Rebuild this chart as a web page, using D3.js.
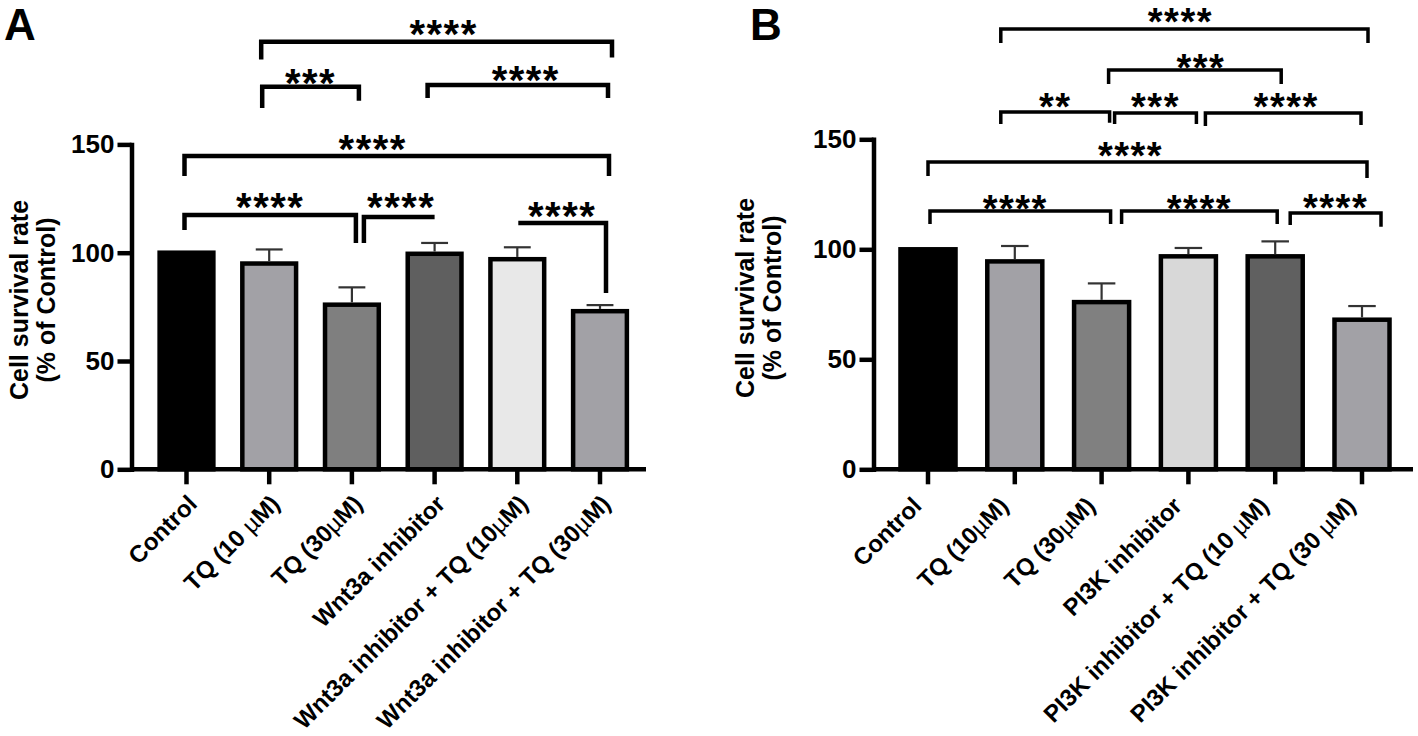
<!DOCTYPE html>
<html><head><meta charset="utf-8">
<script src="https://cdn.jsdelivr.net/npm/d3@7"></script>
<style>body{margin:0;background:#fff} svg{display:block}</style>
</head><body>
<svg id="chart" width="1418" height="736"></svg>
<script>
// ---------- DATA ----------
const categoriesA = ["Control","TQ (10 µM)","TQ (30µM)","Wnt3a inhibitor","Wnt3a inhibitor + TQ (10µM)","Wnt3a inhibitor + TQ (30µM)"];
const meansA  = [100, 95, 76, 99.5, 97, 73];
const errorsA = [0, 6.5, 8, 5, 5.5, 2.8];

const categoriesB = ["Control","TQ (10µM)","TQ (30µM)","PI3K inhibitor","PI3K inhibitor + TQ (10 µM)","PI3K inhibitor + TQ (30 µM)"];
const meansB  = [100, 94.5, 76, 96.8, 96.8, 68];
const errorsB = [0, 7, 8.5, 3.8, 6.8, 6.2];

const yTickValues = [0, 50, 100, 150];
const yTitle = ["Cell survival rate", "(% of Control)"];

// significance brackets: category indices, level & leg ends in data units
const bracketsA = [
  {from:1, to:5, level:197.4, legs:[189.2, 190.1], label:"****"},
  {from:1, to:2, level:176.6, legs:[166.8, 170.1], label:"***"},
  {from:3, to:5, level:177.4, legs:[171.4, 171.4], label:"****"},
  {from:0, to:5, level:144.6, legs:[135.4, 135.4], label:"****"},
  {from:0, to:2, level:117.4, legs:[110.5, 104.5], label:"****"},
  {from:2, to:3, level:116.5, legs:[104.5, null],  label:"****"},
  {from:4, to:5, level:113.7, legs:[null, 81.4],   label:"****"}
];
const bracketsB = [
  {from:1, to:5, level:200.1, legs:[193.8, 193.8], label:"****"},
  {from:2, to:4, level:181.5, legs:[175.1, 175.1], label:"***"},
  {from:1, to:2, level:162.4, legs:[157.0, 157.5], label:"**"},
  {from:2, to:3, level:161.9, legs:[157.0, 157.0], label:"***"},
  {from:3, to:5, level:161.9, legs:[156.0, 156.5], label:"****"},
  {from:0, to:5, level:139.7, legs:[133.3, 132.4], label:"****"},
  {from:0, to:2, level:117.4, legs:[111.5, 111.5], label:"****"},
  {from:2, to:4, level:117.4, legs:[111.5, 111.5], label:"****"},
  {from:4, to:5, level:116.5, legs:[111.0, 110.3], label:"****"}
];

// ---------- STYLE / LAYOUT ----------
const fillsA = ["#000000","#a2a1a6","#7f7f7f","#5f5f5f","#e8e8e8","#a2a1a6"];
const fillsB = ["#000000","#a2a1a6","#808080","#d8d8d8","#606060","#a2a1a6"];
// [dx left end, dx right end, dx text, text centre above line] in px
const nudgesA = [[-8,12,7,17],[-7,7,0,13],[-7,8,8,14],[-2,9,-24,16],[-2,4,0,17],[12,0,2,19],[1,6,0,16]];
const nudgesB = [[-14,6,-4,16],[7,6,6,11],[-14,8,0,14],[13,8,0,15],[17,-1,3,15],[0,5,-17,15],[2,9,-5,11],[20,2,0,11],[15,19,0,14]];

const svg = d3.select("#chart");
const FONT = "'Liberation Sans', Arial, sans-serif";
const NARROW = "'Liberation Sans Narrow', 'Arial Narrow', 'Liberation Sans', Arial, sans-serif";

function drawPanel(cfg) {
  const g = svg.append("g");
  const x = d3.scaleBand().domain(cfg.categories).range(cfg.xRange)
              .paddingInner(cfg.pad).paddingOuter(cfg.pad / 2);
  const y = d3.scaleLinear().domain([0, 150]).range(cfg.yRange);
  const cx = i => x(cfg.categories[i]) + x.bandwidth() / 2;

  // bars
  g.selectAll("rect.bar").data(cfg.categories).join("rect")
    .attr("class", "bar")
    .attr("x", d => x(d)).attr("width", x.bandwidth())
    .attr("y", (d, i) => y(cfg.means[i]))
    .attr("height", (d, i) => y(0) - y(cfg.means[i]))
    .attr("fill", (d, i) => cfg.fills[i])
    .attr("stroke", "#000").attr("stroke-width", cfg.barStroke);

  // error bars (upper only)
  const idx = d => cfg.categories.indexOf(d);
  const eb = g.selectAll("g.err").data(cfg.categories.filter((d, i) => cfg.errors[i] > 0)).join("g").attr("class", "err");
  eb.append("line")
    .attr("x1", d => x(d) + x.bandwidth() / 2).attr("x2", d => x(d) + x.bandwidth() / 2)
    .attr("y1", d => y(cfg.means[idx(d)]) - cfg.barStroke / 2)
    .attr("y2", d => y(cfg.means[idx(d)] + cfg.errors[idx(d)]))
    .attr("stroke", "#333").attr("stroke-width", 2.2);
  eb.append("line")
    .attr("x1", d => x(d) + x.bandwidth() * 0.25).attr("x2", d => x(d) + x.bandwidth() * 0.75)
    .attr("y1", d => y(cfg.means[idx(d)] + cfg.errors[idx(d)]))
    .attr("y2", d => y(cfg.means[idx(d)] + cfg.errors[idx(d)]))
    .attr("stroke", "#333").attr("stroke-width", 2.2);

  // x axis line
  g.append("line").attr("x1", cfg.axisX).attr("x2", cfg.xEnd)
    .attr("y1", y(0)).attr("y2", y(0)).attr("stroke", "#000").attr("stroke-width", 4.5);
  // x axis ticks
  const xa = g.append("g").attr("transform", `translate(0,${y(0)})`)
    .call(d3.axisBottom(x).tickSize(15).tickSizeOuter(0).tickFormat(""));
  xa.select(".domain").remove();
  xa.selectAll(".tick line").attr("stroke", "#000").attr("stroke-width", 4.5);

  // x labels
  cfg.categories.forEach((c, i) => {
    const t = g.append("text")
      .attr("transform", `translate(${cx(i) + cfg.labelDx},${y(0) + cfg.labelDy}) rotate(-45)`)
      .attr("text-anchor", "end")
      .attr("font-family", FONT).attr("font-weight", "bold")
      .attr("font-size", cfg.labelSize).attr("fill", "#000");
    c.split(/(µ)/).forEach(part => {
      if (!part) return;
      t.append("tspan").text(part).attr("font-weight", part === "µ" ? "normal" : "bold");
    });
  });

  // y axis
  const ya = g.append("g").attr("transform", `translate(${cfg.axisX},0)`)
    .call(d3.axisLeft(y).tickValues(yTickValues).tickSize(14).tickSizeOuter(0).tickPadding(3));
  ya.select(".domain").attr("stroke", "#000").attr("stroke-width", 4.5).attr("stroke-linecap", "square");
  ya.selectAll(".tick line").attr("stroke", "#000").attr("stroke-width", 4.5);
  ya.selectAll(".tick text").attr("font-family", NARROW).attr("font-weight", "bold")
    .attr("font-size", cfg.tickSize).attr("fill", "#000");

  // y title
  yTitle.forEach((line, k) => {
    g.append("text")
      .attr("transform", `translate(${cfg.titleX[k]},${cfg.titleY}) rotate(-90)`)
      .attr("text-anchor", "middle")
      .attr("font-family", FONT).attr("font-weight", "bold")
      .attr("font-size", cfg.titleSize).attr("fill", "#000").text(line);
  });

  // panel letter
  g.append("text").attr("x", cfg.letterX).attr("y", 40)
    .attr("font-family", FONT).attr("font-weight", "bold").attr("font-size", 44)
    .attr("fill", "#000").text(cfg.letter);

  // brackets
  cfg.brackets.forEach((b, k) => {
    const n = cfg.nudges[k];
    const xl = cx(b.from) + n[0], xr = cx(b.to) + n[1];
    const yl = y(b.level);
    let d = "";
    if (b.legs[0] !== null) d += `M${xl},${y(b.legs[0])}V${yl}`; else d += `M${xl},${yl}`;
    d += `H${xr}`;
    if (b.legs[1] !== null) d += `V${y(b.legs[1])}`;
    g.append("path").attr("d", d).attr("fill", "none").attr("stroke", "#000")
      .attr("stroke-width", cfg.bracketStroke).attr("stroke-linejoin", "miter");
    g.append("text")
      .attr("x", (xl + xr) / 2 + n[2])
      .attr("y", yl - n[3] + cfg.starSize * 0.58)
      .attr("text-anchor", "middle")
      .attr("font-family", FONT).attr("font-weight", "bold")
      .attr("font-size", cfg.starSize).attr("letter-spacing", 1.5)
      .attr("fill", "#000").text(b.label);
  });
}

drawPanel({
  letter: "A", letterX: 4,
  categories: categoriesA, means: meansA, errors: errorsA, fills: fillsA,
  brackets: bracketsA, nudges: nudgesA,
  xRange: [145.15, 641.35], pad: 0.35, yRange: [469.3, 144.4],
  axisX: 131.5, xEnd: 646,
  barStroke: 4.5, bracketStroke: 4.5,
  labelDx: 12, labelDy: 36, labelSize: 24,
  tickSize: 26, titleSize: 25, titleX: [28, 55], titleY: 300,
  starSize: 40
});
drawPanel({
  letter: "B", letterX: 750,
  categories: categoriesB, means: meansB, errors: errorsB, fills: fillsB,
  brackets: bracketsB, nudges: nudgesB,
  xRange: [884.6, 1405.4], pad: 0.366, yRange: [469.3, 139.3],
  axisX: 873.5, xEnd: 1413,
  barStroke: 4.5, bracketStroke: 3.5,
  labelDx: -5, labelDy: 38, labelSize: 24,
  tickSize: 26, titleSize: 25, titleX: [754, 781], titleY: 298,
  starSize: 38
});
</script>
</body></html>
